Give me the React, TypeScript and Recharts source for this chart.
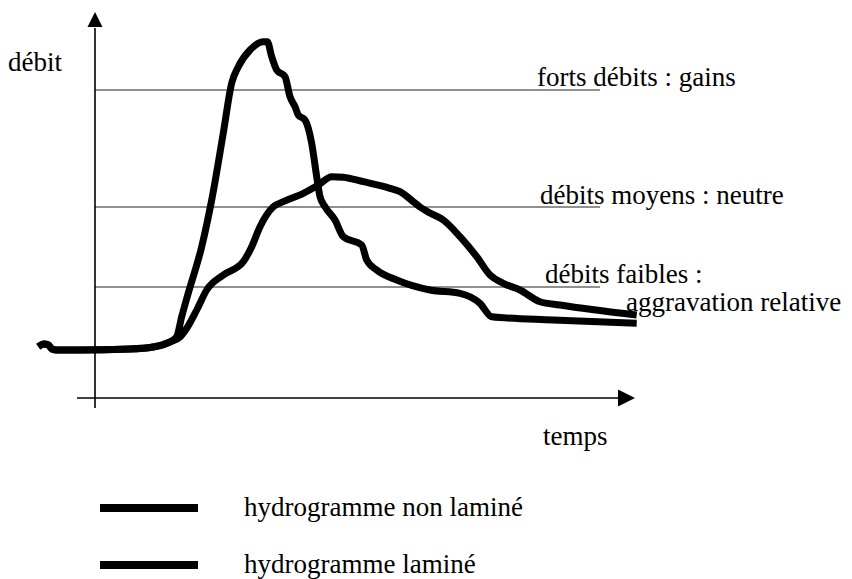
import { LineChart, Line, XAxis, YAxis, ReferenceLine, ReferenceDot, Customized } from "recharts";

// time / discharge, in arbitrary units
const nonLamine = [
  [0.33, 5.13], [0.9, 5.4], [1.33, 5.3], [1.7, 4.9], [2.17, 4.8], [4.5, 4.8], [9.5, 4.9],
  [11.8, 5.1], [13.5, 5.6], [14.17, 6.13], [14.67, 8.13], [15.33, 10.5], [16.67, 15.13],
  [17.67, 19.8], [18.83, 26.5], [19.67, 31.5], [20.33, 33.13], [21.5, 34.8], [22.83, 35.63],
  [23.23, 35.63], [23.67, 34.13], [24.17, 32.8], [25.0, 32.13], [25.5, 30.13], [26.0, 29.13],
  [26.33, 28.3], [27.0, 27.8], [27.67, 25.47], [28.17, 22.13], [28.5, 20.13], [29.0, 19.13],
  [30.0, 17.8], [30.83, 16.13], [32.67, 15.3], [33.17, 13.8], [34.17, 12.8], [36.17, 11.8],
  [39.5, 10.8], [42.5, 10.47], [44.5, 9.47], [45.67, 8.13], [51.8, 7.8], [60.17, 7.47],
];

const lamine = [
  [0.33, 5.13], [0.9, 5.4], [1.33, 5.3], [1.7, 4.9], [2.17, 4.8], [4.5, 4.8], [9.5, 4.9],
  [11.8, 5.1], [13.5, 5.6], [14.5, 6.1], [15.17, 6.97], [16.17, 8.8], [17.17, 10.8],
  [18.83, 12.3], [20.83, 13.63], [21.67, 15.13], [22.5, 17.13], [23.83, 19.13], [24.83, 19.63],
  [26.83, 20.47], [28.33, 21.3], [29.67, 22.13], [30.83, 22.07], [32.83, 21.63], [35.5, 20.97],
  [36.5, 20.63], [37.83, 19.63], [38.5, 19.1], [39.5, 18.5], [40.83, 17.8], [42.5, 16.13],
  [44.17, 14.13], [45.5, 12.3], [46.83, 11.47], [48.5, 10.8], [50.5, 9.63], [52.5, 9.3],
  [60.17, 8.3],
];

const levels = [30.8, 19.1, 11.1];
const seriesNames = ["hydrogramme non laminé", "hydrogramme laminé"];

const toPoints = (arr: number[][]) => arr.map(([t, q]) => ({ t, q }));

const FONT = '"Liberation Serif", serif';
const textStyle = { fontFamily: FONT, fontSize: 27 };

const labels = [
  { text: "débit", x: 8, y: 71 },
  { text: "forts débits : gains", x: 537, y: 86 },
  { text: "débits moyens : neutre", x: 540, y: 204 },
  { text: "débits faibles :", x: 545, y: 283 },
  { text: "aggravation relative", x: 626, y: 311 },
  { text: "temps", x: 543, y: 445 },
];

const Annotations = () => (
  <g fill="#000">
    {labels.map((l) => (
      <text key={l.text} x={l.x} y={l.y} style={textStyle}>
        {l.text}
      </text>
    ))}
    {/* legend */}
    {seriesNames.map((name, i) => (
      <g key={name}>
        <line x1={100} x2={198} y1={508 + i * 57} y2={508 + i * 57} stroke="#000" strokeWidth={8} />
        <text x={244} y={516 + i * 57} style={textStyle}>
          {name}
        </text>
      </g>
    ))}
  </g>
);

const UpArrow = (p: any) => (
  <polygon points={`${p.cx},${p.cy} ${p.cx - 7.5},${p.cy + 15} ${p.cx + 7.5},${p.cy + 15}`} fill="#000" />
);
const RightArrow = (p: any) => (
  <polygon points={`${p.cx},${p.cy} ${p.cx - 17},${p.cy - 8.5} ${p.cx - 17},${p.cy + 8.5}`} fill="#000" />
);

export default function App() {
  return (
    <div style={{ position: "absolute", left: 0, top: 0, width: 852, height: 579, background: "#fff" }}>
      <LineChart width={852} height={579} margin={{ top: 8, right: 207, bottom: 161, left: 25 }}>
        <XAxis type="number" dataKey="t" domain={[-1, 61]} hide />
        <YAxis type="number" dataKey="q" domain={[-2, 39]} hide width={0} />

        {levels.map((lv) => (
          <ReferenceLine
            key={lv}
            segment={[{ x: 6, y: lv }, { x: 56.5, y: lv }]}
            stroke="#222"
            strokeWidth={1}
          />
        ))}

        <ReferenceLine segment={[{ x: 6, y: -1 }, { x: 6, y: 37 }]} stroke="#000" strokeWidth={1.6} />
        <ReferenceLine segment={[{ x: 4.2, y: 0 }, { x: 58.5, y: 0 }]} stroke="#000" strokeWidth={1.6} />
        <ReferenceDot x={6} y={38.6} r={0} shape={UpArrow} />
        <ReferenceDot x={60} y={0} r={0} shape={RightArrow} />

        <Line
          data={toPoints(nonLamine)}
          dataKey="q"
          type="monotone"
          stroke="#000"
          strokeWidth={7}
          strokeLinejoin="round"
          dot={false}
          isAnimationActive={false}
        />
        <Line
          data={toPoints(lamine)}
          dataKey="q"
          type="monotone"
          stroke="#000"
          strokeWidth={7}
          strokeLinejoin="round"
          dot={false}
          isAnimationActive={false}
        />

        <Customized component={Annotations} />
      </LineChart>
    </div>
  );
}
